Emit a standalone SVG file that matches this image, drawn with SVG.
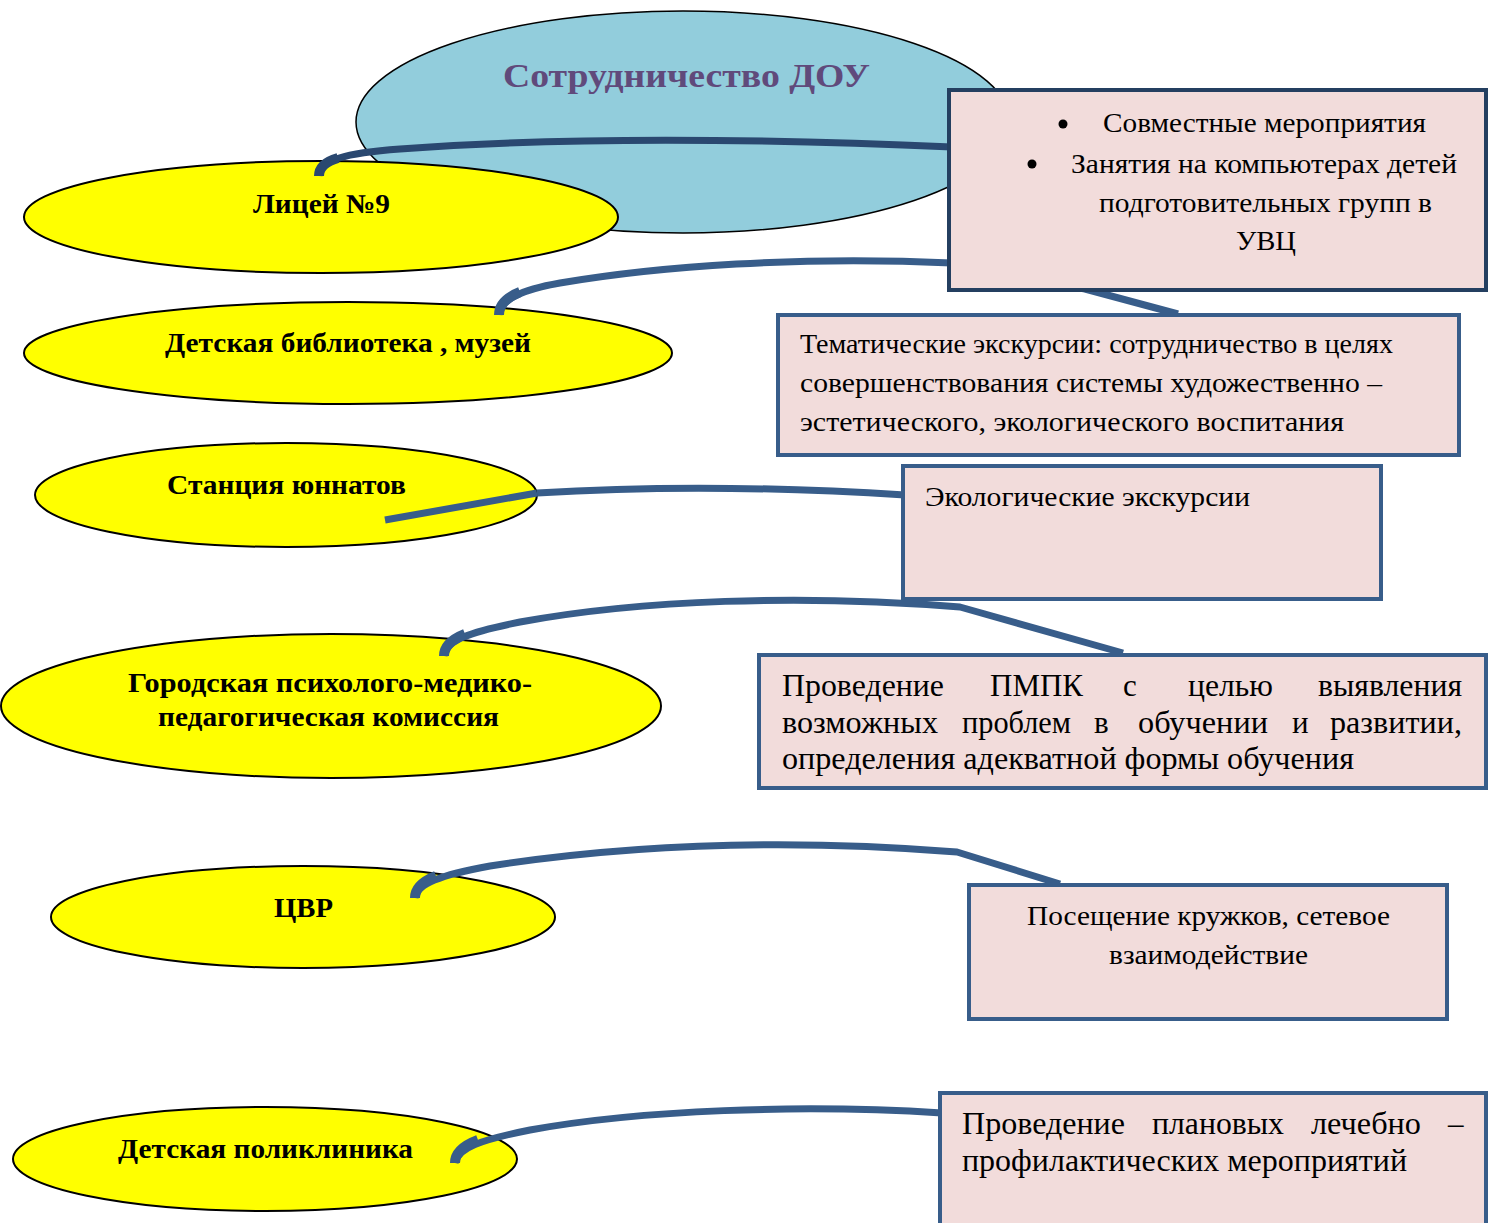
<svg xmlns="http://www.w3.org/2000/svg" width="1498" height="1223" viewBox="0 0 1498 1223">
<style>
.lbl{font-family:"Liberation Serif","Times New Roman",serif;font-weight:bold;font-size:27px;fill:#000}
.ttl{font-family:"Liberation Serif","Times New Roman",serif;font-weight:bold;font-size:33px;fill:#604A7B}
.bt{font-family:"Liberation Serif","Times New Roman",serif;font-size:28px;fill:#000}
.bt4{font-family:"Liberation Serif","Times New Roman",serif;font-size:31px;fill:#000}
.yel{fill:#FFFF00;stroke:#000;stroke-width:2}
.box{fill:#F2DCDB;stroke:#385D8A;stroke-width:4}
.con{fill:none;stroke:#385D8A;stroke-width:7;stroke-linecap:butt;stroke-linejoin:round}
.hook{fill:none;stroke:#385D8A;stroke-width:10;stroke-linecap:butt}
</style>
<rect width="1498" height="1223" fill="#fff"/>
<g id="center">
<ellipse cx="683" cy="122" rx="327" ry="111" fill="#92CDDC" stroke="#000" stroke-width="1.5"/>
<text class="ttl" x="503" y="87" textLength="367" lengthAdjust="spacingAndGlyphs">Сотрудничество ДОУ</text>
</g>
<g id="n-licey"><ellipse class="yel" cx="321" cy="217" rx="297" ry="56"/>
<text class="lbl" x="253" y="213" textLength="137" lengthAdjust="spacingAndGlyphs">Лицей №9</text></g>
<g id="n-library"><ellipse class="yel" cx="348" cy="353" rx="324" ry="51"/>
<text class="lbl" x="165" y="352" textLength="366" lengthAdjust="spacingAndGlyphs">Детская библиотека , музей</text></g>
<g id="n-station"><ellipse class="yel" cx="286" cy="495" rx="251" ry="52"/>
<text class="lbl" x="167" y="494" textLength="239" lengthAdjust="spacingAndGlyphs">Станция юннатов</text></g>
<g id="n-pmpk"><ellipse class="yel" cx="331" cy="706" rx="330" ry="72"/>
<text class="lbl" x="128" y="692" textLength="404" lengthAdjust="spacingAndGlyphs">Городская  психолого-медико-</text>
<text class="lbl" x="158" y="726" textLength="341" lengthAdjust="spacingAndGlyphs">педагогическая комиссия</text></g>
<g id="n-cvr"><ellipse class="yel" cx="303" cy="917" rx="252" ry="51"/>
<text class="lbl" x="274" y="917" textLength="59" lengthAdjust="spacingAndGlyphs">ЦВР</text></g>
<g id="n-clinic"><ellipse class="yel" cx="265" cy="1159" rx="252" ry="52"/>
<text class="lbl" x="118" y="1158" textLength="295" lengthAdjust="spacingAndGlyphs">Детская поликлиника</text></g>
<g id="connectors">
<path class="con" style="stroke:#2A4870" d="M319,176 C320,160 345,153 400,149 C520,140 700,136 952,147"/>
<path class="hook" style="stroke:#2A4870" d="M319,176 C319,168 324,162 338,158"/>
<path class="con" d="M499,315 C500,300 520,290 560,283 C660,266 800,256 952,263 L1085,289 L1178,314"/>
<path class="hook" d="M499,315 C499,306 505,298 520,292"/>
<path class="con" d="M385,520 L537,493"/>
<path class="con" d="M537,493 C650,486 780,487 905,495"/>
<path class="con" d="M444,656 C446,640 470,632 520,622 C640,600 800,594 960,607 L1123,653"/>
<path class="hook" d="M444,656 C444,647 450,640 465,634"/>
<path class="con" d="M415,898 C417,884 440,875 490,866 C620,846 780,838 957,852 L1060,884"/>
<path class="hook" d="M415,898 C415,889 421,882 436,876"/>
<path class="con" d="M455,1163 C458,1148 480,1140 530,1130 C640,1110 800,1104 942,1113"/>
<path class="hook" d="M455,1163 C455,1154 462,1146 478,1140"/>
</g>
<g id="b-joint">
<rect class="box" x="949" y="90" width="537" height="200" style="stroke:#243F60"/>
<circle cx="1063" cy="124" r="4.5" fill="#000"/>
<circle cx="1032" cy="164" r="4.5" fill="#000"/>
<text class="bt" x="1103" y="132" textLength="323" lengthAdjust="spacingAndGlyphs">Совместные мероприятия</text>
<text class="bt" x="1071" y="173" textLength="386" lengthAdjust="spacingAndGlyphs">Занятия на компьютерах детей</text>
<text class="bt" x="1099" y="212" textLength="333" lengthAdjust="spacingAndGlyphs">подготовительных групп в</text>
<text class="bt" x="1236" y="250" textLength="60" lengthAdjust="spacingAndGlyphs">УВЦ</text>
</g>
<g id="b-excursions">
<rect class="box" x="778" y="315" width="681" height="140"/>
<text class="bt" x="800" y="353" textLength="593" lengthAdjust="spacingAndGlyphs">Тематические экскурсии: сотрудничество в целях</text>
<text class="bt" x="800" y="392" textLength="582" lengthAdjust="spacingAndGlyphs">совершенствования системы художественно –</text>
<text class="bt" x="800" y="431" textLength="544" lengthAdjust="spacingAndGlyphs">эстетического, экологического  воспитания</text>
</g>
<g id="b-eco">
<rect class="box" x="903" y="466" width="478" height="133"/>
<text class="bt" x="925" y="506" textLength="325" lengthAdjust="spacingAndGlyphs">Экологические экскурсии</text>
</g>
<g id="b-pmpk">
<rect class="box" x="759" y="655" width="727" height="133"/>
<text class="bt4" y="696"><tspan x="782" textLength="162" lengthAdjust="spacingAndGlyphs">Проведение</tspan><tspan x="990" textLength="93" lengthAdjust="spacingAndGlyphs">ПМПК</tspan><tspan x="1123">с</tspan><tspan x="1188" textLength="85" lengthAdjust="spacingAndGlyphs">целью</tspan><tspan x="1318" textLength="144" lengthAdjust="spacingAndGlyphs">выявления</tspan></text>
<text class="bt4" y="733"><tspan x="782" textLength="156" lengthAdjust="spacingAndGlyphs">возможных</tspan><tspan x="962" textLength="109" lengthAdjust="spacingAndGlyphs">проблем</tspan><tspan x="1094">в</tspan><tspan x="1138" textLength="130" lengthAdjust="spacingAndGlyphs">обучении</tspan><tspan x="1292">и</tspan><tspan x="1330" textLength="132" lengthAdjust="spacingAndGlyphs">развитии,</tspan></text>
<text class="bt4" x="782" y="769" textLength="572" lengthAdjust="spacingAndGlyphs">определения адекватной формы обучения</text>
</g>
<g id="b-cvr">
<rect class="box" x="969" y="885" width="478" height="134"/>
<text class="bt" x="1027" y="925" textLength="363" lengthAdjust="spacingAndGlyphs">Посещение кружков, сетевое</text>
<text class="bt" x="1109" y="964" textLength="199" lengthAdjust="spacingAndGlyphs">взаимодействие</text>
</g>
<g id="b-clinic">
<rect class="box" x="940" y="1093" width="546" height="150"/>
<text class="bt4" y="1134"><tspan x="962" textLength="163" lengthAdjust="spacingAndGlyphs">Проведение</tspan><tspan x="1152" textLength="132" lengthAdjust="spacingAndGlyphs">плановых</tspan><tspan x="1311" textLength="110" lengthAdjust="spacingAndGlyphs">лечебно</tspan><tspan x="1448">–</tspan></text>
<text class="bt4" x="962" y="1171" textLength="445" lengthAdjust="spacingAndGlyphs">профилактических мероприятий</text>
</g>
</svg>
